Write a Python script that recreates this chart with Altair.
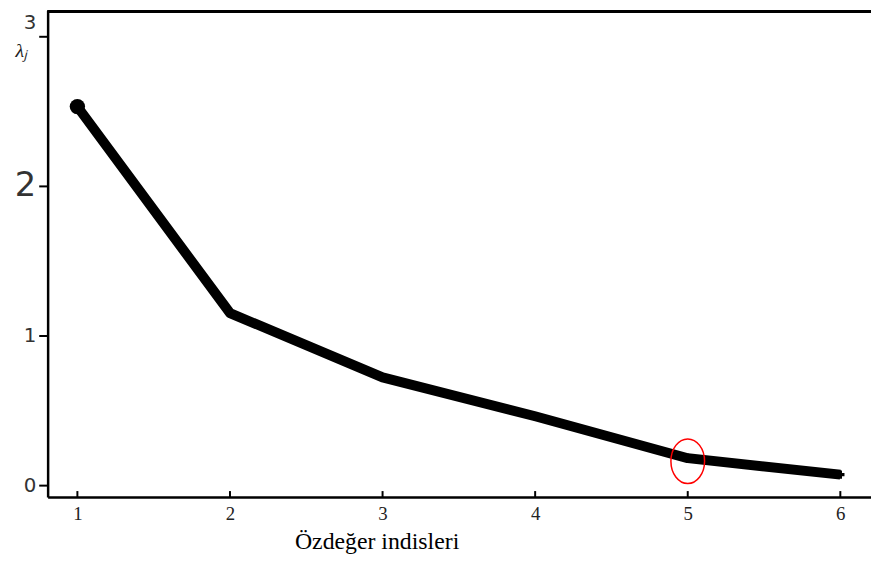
import altair as alt
import pandas as pd

# Data
indices = [1, 2, 3, 4, 5, 6]
eigenvalues = [2.53, 1.15, 0.72, 0.46, 0.18, 0.07]
highlight_index = [5]
highlight_value = [0.16]
x_ticks = [1, 2, 3, 4, 5, 6]
y_ticks = [0, 1, 2, 3]

df = pd.DataFrame({"idx": indices, "val": eigenvalues})
df_first = df.iloc[[0]]
df_rest = df.iloc[1:]
df_hl = pd.DataFrame({"idx": highlight_index, "val": highlight_value})
df_ticks = pd.DataFrame({"idx": x_ticks})

W, H = 831, 491
xs = alt.Scale(domain=[0.805, 6.201], nice=False, zero=False)
ys = alt.Scale(domain=[-0.0795, 3.172], nice=False, zero=False)

x_enc = alt.X("idx:Q", scale=xs, axis=alt.Axis(
    values=x_ticks, format="d", tickSize=0, domainColor="black", domainWidth=2.5,
    labelFont="Liberation Serif", labelFontSize=19, labelColor="#222",
    labelPadding=8, grid=False,
    title="Özdeğer indisleri", titleFont="Liberation Serif", titleFontSize=24,
    titleFontWeight="normal", titleColor="black",
    titleX=332, titleY=45, titleAlign="center", titleBaseline="middle"))
y_enc = alt.Y("val:Q", scale=ys, axis=alt.Axis(
    values=y_ticks, format="d", tickSize=9, tickWidth=2, tickColor="black",
    domainColor="black", domainWidth=2.5, grid=False,
    labelFont="DejaVu Sans", labelFontSize=alt.ExprRef("datum.value == 2 ? 34 : 20"),
    labelOffset=alt.ExprRef("datum.value == 3 ? -14 : 0"),
    labelColor="#333", labelPadding=3,
    title="λⱼ", titleAngle=0, titleFont="Liberation Serif", titleFontStyle="italic",
    titleFontSize=20, titleFontWeight="normal", titleColor="#222",
    titleX=-27, titleY=40, titleAlign="center", titleBaseline="middle"))

line = alt.Chart(df).mark_line(color="black", strokeWidth=10, strokeJoin="round").encode(
    x=x_enc, y=y_enc)
first = alt.Chart(df_first).mark_point(filled=True, color="black", size=240, opacity=1).encode(
    x="idx:Q", y="val:Q")
rest = alt.Chart(df_rest).mark_point(shape="cross", filled=True, color="black", size=70, opacity=1).encode(
    x="idx:Q", y="val:Q")
ellipse_path = ("M0,-1 C0.417,-1 0.755,-0.552 0.755,0 C0.755,0.552 0.417,1 0,1 "
                "C-0.417,1 -0.755,0.552 -0.755,0 C-0.755,-0.552 -0.417,-1 0,-1 Z")
hl = alt.Chart(df_hl).mark_point(shape=ellipse_path, filled=False, color="red",
                                 strokeWidth=1.5, size=2025, opacity=1).encode(
    x="idx:Q", y="val:Q")
xticks = alt.Chart(df_ticks).mark_rule(color="black", strokeWidth=2).encode(
    x="idx:Q", y=alt.value(H - 6), y2=alt.value(H))
topline = alt.Chart(df_ticks).mark_rule(color="black", strokeWidth=2.5).encode(
    x=alt.value(0), x2=alt.value(W), y=alt.value(1))

chart = alt.layer(line, first, rest, hl, xticks, topline).properties(
    width=W, height=H,
    autosize=alt.AutoSizeParams(type="none"),
    padding={"left": 40, "top": 0, "right": 0, "bottom": 60},
).configure_view(stroke=None).configure(background="white")

chart.save("out.html", embed_options={"renderer": "svg", "actions": False})
